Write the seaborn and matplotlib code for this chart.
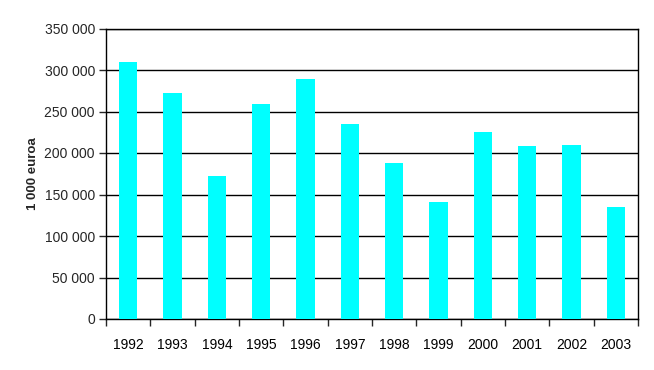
import matplotlib
matplotlib.use("Agg")
import matplotlib.pyplot as plt
import seaborn as sns
import pandas as pd
from matplotlib.ticker import FuncFormatter, FixedLocator

# ── Data ─────────────────────────────────────────────────
years = ["1992", "1993", "1994", "1995", "1996", "1997",
         "1998", "1999", "2000", "2001", "2002", "2003"]
values = [309500, 272000, 172000, 259000, 289000, 234700,
          187800, 141000, 225100, 208300, 209500, 134800]
y_ticks = [0, 50000, 100000, 150000, 200000, 250000, 300000, 350000]

df = pd.DataFrame({"year": years, "value": values})

sns.set_style("white")
plt.rcParams["font.family"] = ["Liberation Sans", "DejaVu Sans"]

fig = plt.figure(figsize=(6.54, 3.70), dpi=100)
ax = fig.add_axes([106 / 654, 1 - 319 / 370, (638 - 106) / 654, (319 - 28.5) / 370])

sns.barplot(data=df, x="year", y="value", color="#00ffff", saturation=1,
            width=0.41, linewidth=0, ax=ax, zorder=3)

ax.set_ylim(0, 350000)
ax.set_xlim(-0.5, len(years) - 0.5)
ax.set_yticks(y_ticks)
ax.yaxis.set_major_formatter(FuncFormatter(lambda v, p: f"{int(v):,}".replace(",", " ")))
ax.yaxis.grid(True, color="black", linewidth=1, zorder=0)
ax.set_axisbelow(True)

# ticks between categories, labels under the bars
ax.xaxis.set_minor_locator(FixedLocator([i - 0.5 for i in range(len(years) + 1)]))
ax.tick_params(axis="x", which="major", length=0, pad=14, labelsize=10, colors="black")
ax.tick_params(axis="x", which="minor", length=5, width=1, direction="out", bottom=True)
ax.tick_params(axis="y", which="major", length=5, width=1, direction="out", left=True,
               labelsize=10, pad=3)

for s in ax.spines.values():
    s.set_color("black")
    s.set_linewidth(1)

ax.set_xlabel("")
ax.set_ylabel("1 000 euroa", fontsize=9.5, fontweight="bold", labelpad=4)

fig.savefig("out.png", dpi=100)
